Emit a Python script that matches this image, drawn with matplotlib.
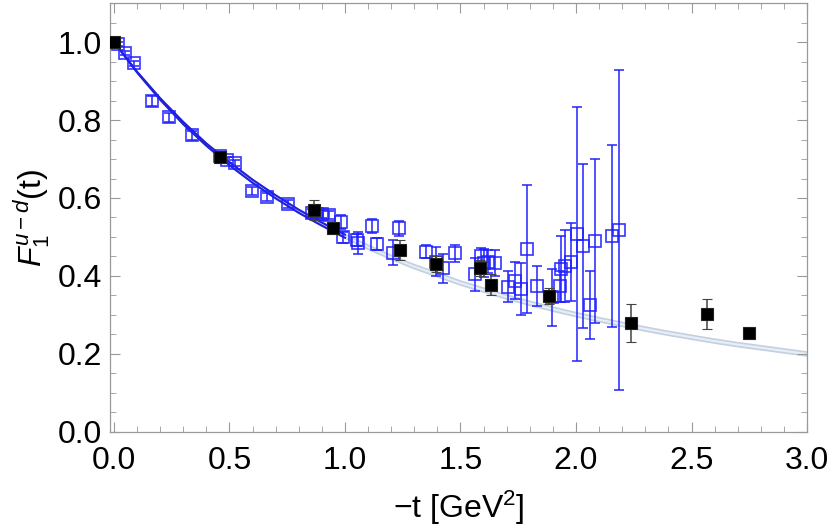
import numpy as np
import matplotlib
matplotlib.use("Agg")
import matplotlib.pyplot as plt
from matplotlib.ticker import MultipleLocator

plt.rcParams["font.family"] = "Liberation Sans"
plt.rcParams["mathtext.fontset"] = "custom"
plt.rcParams["mathtext.rm"] = "Liberation Sans"
plt.rcParams["mathtext.it"] = "Liberation Sans:italic"

# fit band (centre and half width, every 0.1 GeV^2)
t_fit = np.round(np.arange(0, 3.01, 0.1), 1)
f_fit = [1.000, 0.923, 0.854, 0.792, 0.737, 0.688, 0.643, 0.603, 0.566, 0.533,
         0.502, 0.474, 0.448, 0.424, 0.403, 0.382, 0.364, 0.346, 0.330, 0.315,
         0.301, 0.288, 0.276, 0.264, 0.253, 0.243, 0.233, 0.224, 0.216, 0.208,
         0.200]
f_fit_hw = [0.000, 0.001, 0.002, 0.003, 0.003, 0.004, 0.004, 0.004, 0.004, 0.004,
            0.004, 0.005, 0.005, 0.005, 0.005, 0.005, 0.005, 0.005, 0.005, 0.005,
            0.005, 0.005, 0.005, 0.005, 0.005, 0.005, 0.005, 0.005, 0.005, 0.005,
            0.005]
n_blue_band = 11  # dunkelblaues Band bis t = 1.0

# offene blaue Quadrate
t_blue = [0.019, 0.048, 0.087, 0.163, 0.237, 0.338, 0.460, 0.490, 0.525, 0.596,
          0.661, 0.752, 0.856, 0.877, 0.900, 0.929, 0.981, 0.993, 1.051, 1.058,
          1.115, 1.137, 1.209, 1.235, 1.351, 1.394, 1.423, 1.476, 1.563, 1.589,
          1.602, 1.620, 1.649, 1.707, 1.736, 1.760, 1.787, 1.833, 1.895, 1.930,
          1.935, 1.952, 1.977, 2.003, 2.032, 2.061, 2.082, 2.156, 2.184]
f_blue = [0.995, 0.971, 0.945, 0.849, 0.807, 0.761, 0.708, 0.697, 0.689, 0.618,
          0.602, 0.584, 0.561, 0.559, 0.558, 0.556, 0.539, 0.499, 0.492, 0.484,
          0.528, 0.482, 0.460, 0.522, 0.462, 0.437, 0.420, 0.458, 0.404, 0.451,
          0.433, 0.437, 0.434, 0.373, 0.388, 0.366, 0.469, 0.374, 0.345, 0.374,
          0.418, 0.426, 0.436, 0.508, 0.477, 0.326, 0.490, 0.503, 0.517]
e_blue = [0.004, 0.005, 0.006, 0.012, 0.012, 0.012, 0.008, 0.008, 0.008, 0.010,
          0.010, 0.010, 0.010, 0.010, 0.010, 0.010, 0.018, 0.014, 0.015, 0.028,
          0.017, 0.016, 0.032, 0.020, 0.017, 0.038, 0.037, 0.021, 0.042, 0.021,
          0.035, 0.030, 0.033, 0.040, 0.047, 0.067, 0.165, 0.051, 0.074, 0.040,
          0.084, 0.092, 0.100, 0.326, 0.210, 0.088, 0.210, 0.233, 0.410]

# schwarze Quadrate
t_black = [0.000, 0.459, 0.867, 0.947, 1.238, 1.393, 1.584, 1.631, 1.883, 2.237,
           2.567, 2.748]
f_black = [1.000, 0.705, 0.569, 0.522, 0.467, 0.430, 0.420, 0.377, 0.349, 0.279,
           0.303, 0.253]
e_black = [0.005, 0.010, 0.026, 0.010, 0.026, 0.020, 0.020, 0.027, 0.020, 0.048,
           0.038, 0.012]

fig = plt.figure(figsize=(8.29, 5.29), dpi=100)
ax = fig.add_axes([0.1327, 0.1834, 0.8408, 0.8109])

f_fit = np.array(f_fit)
hw = np.array(f_fit_hw)

# hellblaues Band ueber den ganzen Bereich
ax.fill_between(t_fit, f_fit - hw, f_fit + hw, color="#e6eef8", lw=0, zorder=1)
ax.plot(t_fit, f_fit + hw, color="#c3d0de", lw=1.2, zorder=1)
ax.plot(t_fit, f_fit - hw, color="#c3d0de", lw=1.2, zorder=1)

# dunkelblaues Band bis 1 GeV^2
nb = n_blue_band
ax.fill_between(t_fit[:nb], (f_fit - hw)[:nb], (f_fit + hw)[:nb],
                color="#c8d0ff", lw=0, zorder=2)
ax.plot(t_fit[:nb], (f_fit + hw)[:nb], color="#2020d8", lw=1.5, zorder=2)
ax.plot(t_fit[:nb], (f_fit - hw)[:nb], color="#2020d8", lw=1.5, zorder=2)

blue = (0.12, 0.12, 1.0)
ax.errorbar(t_blue, f_blue, yerr=e_blue, fmt="s", ms=8.3, mfc="none", mec=blue,
            mew=1.2, ecolor=blue, elinewidth=1.2, capsize=3.5, capthick=1.2,
            alpha=0.9, zorder=3)

ax.errorbar(t_black, f_black, yerr=e_black, fmt="s", ms=8.5, mfc="black",
            mec="#222222", mew=0.8, ecolor="#444444", elinewidth=1.1,
            capsize=3.5, capthick=1.1, zorder=4)

ax.set_xlim(-0.017, 3.0)
ax.set_ylim(0, 1.1)
ax.xaxis.set_major_locator(MultipleLocator(0.5))
ax.xaxis.set_minor_locator(MultipleLocator(0.1))
ax.yaxis.set_major_locator(MultipleLocator(0.2))
ax.yaxis.set_minor_locator(MultipleLocator(0.05))
ax.xaxis.set_major_formatter(plt.FuncFormatter(lambda v, p: f"{v:.1f}"))
ax.yaxis.set_major_formatter(plt.FuncFormatter(lambda v, p: f"{v:.1f}"))

ax.tick_params(which="both", direction="in", top=True, right=True,
               colors="#999999", labelcolor="black", labelsize=23)
ax.tick_params(which="major", length=7, width=0.8)
ax.tick_params(which="minor", length=4, width=0.6)
ax.tick_params(axis="x", pad=10)
ax.tick_params(axis="y", pad=6)
for s in ax.spines.values():
    s.set_color("#999999")
    s.set_linewidth(0.9)

ax.set_xlabel(r"$-$t [GeV$^2$]", fontsize=23, labelpad=9)
ax.set_ylabel(r"$F_1^{u-d}$(t)", fontsize=23, labelpad=4)

fig.savefig("out.png", dpi=100)
